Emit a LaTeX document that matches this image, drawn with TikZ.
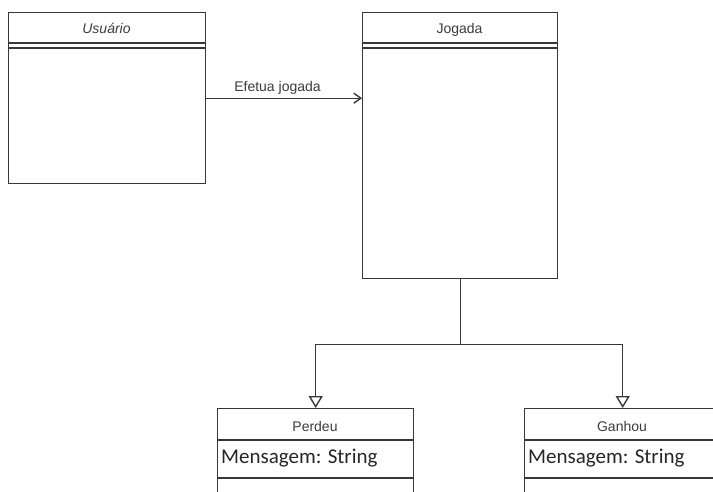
\documentclass[tikz,border=0pt]{standalone}
\usepackage{fontspec}
\setmainfont{Liberation Sans}
\newfontfamily\calibfont{Carlito}
\usetikzlibrary{arrows.meta}
\definecolor{ln}{HTML}{383838}
\definecolor{tx}{HTML}{3C3C3C}
\begin{document}
\begin{tikzpicture}[x=1pt,y=-1pt,
  umlbox/.style={draw=ln, line width=1.4pt, rectangle, anchor=north west, inner sep=0pt},
  hdr/.style={font=\fontsize{14}{16}\selectfont, text=tx, anchor=base, inner sep=0pt},
  attr/.style={font=\calibfont\fontsize{21}{24}\selectfont, text=black!85, anchor=base west, inner sep=0pt},
  sep/.style={draw=ln, line width=1.4pt},
  gen/.style={draw=ln, line width=1.4pt, -{Triangle[open, length=12pt, width=14pt]}},
  assoc/.style={draw=ln, line width=1.4pt, -{Straight Barb[length=7pt, width=10pt]}},
  lbl/.style={font=\fontsize{14}{16}\selectfont, text=tx, inner sep=0pt}]
\useasboundingbox (0,0) rectangle (713,491);
\clip (0,0) rectangle (713,491);
\fill[white] (0,0) rectangle (713,491);

% Usuario
\node[umlbox, minimum width=197pt, minimum height=171pt] (usuario) at (8,12) {};
\node[hdr, font=\fontsize{14}{16}\selectfont\itshape] (usuarioT) at (106.5,33) {Usuário};
\draw[sep] (usuario.west |- 0,43) -- (usuario.east |- 0,43);
\draw[sep] (usuario.west |- 0,48) -- (usuario.east |- 0,48);

% Jogada
\node[umlbox, minimum width=195pt, minimum height=266pt] (jogada) at (362,12) {};
\node[hdr] (jogadaT) at (459.5,33) {Jogada};
\draw[sep] (jogada.west |- 0,43) -- (jogada.east |- 0,43);
\draw[sep] (jogada.west |- 0,48) -- (jogada.east |- 0,48);

% Perdeu
\node[umlbox, minimum width=196pt, minimum height=110pt] (perdeu) at (217,408) {};
\node[hdr] (perdeuT) at (315,431) {Perdeu};
\draw[sep] (perdeu.west |- 0,440) -- (perdeu.east |- 0,440);
\node[attr] (perdeuA) at (221,463) {Mensagem: String};
\draw[sep] (perdeu.west |- 0,478) -- (perdeu.east |- 0,478);

% Ganhou
\node[umlbox, minimum width=196pt, minimum height=110pt] (ganhou) at (524,408) {};
\node[hdr] (ganhouT) at (622,431) {Ganhou};
\draw[sep] (ganhou.west |- 0,440) -- (ganhou.east |- 0,440);
\node[attr] (ganhouA) at (528,463) {Mensagem: String};
\draw[sep] (ganhou.west |- 0,478) -- (ganhou.east |- 0,478);

% Association
\draw[assoc] (usuario.east) -- (usuario.east -| jogada.west);
\node[lbl, anchor=base] (efetua) at (277.5,91) {Efetua jogada};

% Generalization
\path (jogada.south) ++(0,65) coordinate (split);
\draw[sep] (jogada.south) -- (split);
\draw[gen] (split) -| (perdeu.north);
\draw[gen] (split) -| (ganhou.north);
\end{tikzpicture}
\end{document}
